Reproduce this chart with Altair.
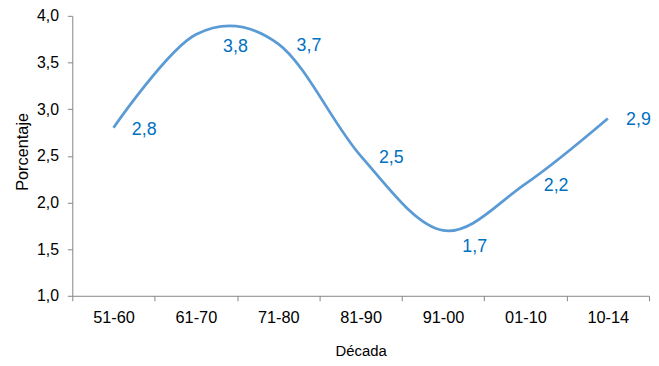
import altair as alt
import pandas as pd

# Data
decadas = ["51-60", "61-70", "71-80", "81-90", "91-00", "01-10", "10-14"]
valores = [2.8, 3.8, 3.7, 2.5, 1.7, 2.2, 2.9]
etiquetas = ["2,8", "3,8", "3,7", "2,5", "1,7", "2,2", "2,9"]
y_ticks = [1.0, 1.5, 2.0, 2.5, 3.0, 3.5, 4.0]

df = pd.DataFrame({"decada": decadas, "valor": valores, "etiqueta": etiquetas})

LINE_COLOR = "#5B9BD5"
LABEL_COLOR = "#0070C0"
AXIS_COLOR = "#868686"
FONT = "Liberation Sans"

x_enc = alt.X(
    "decada:N",
    sort=decadas,
    bandPosition=0.5,
    scale=alt.Scale(type="band", paddingInner=0, paddingOuter=0),
    axis=alt.Axis(
        title="Década",
        labelAngle=0,
        tickBand="extent",
        labelPadding=9,
        titlePadding=18,
        labelFontSize=16.5,
        titleFontSize=15,
    ),
)
y_enc = alt.Y(
    "valor:Q",
    scale=alt.Scale(domain=[1, 4], nice=False, zero=False),
    axis=alt.Axis(
        title="Porcentaje",
        values=y_ticks,
        labelExpr="replace(format(datum.value, '.1f'), '.', ',')",
        labelPadding=9,
        titlePadding=6,
        titleY=137,
        labelFontSize=16,
        titleFontSize=16.5,
    ),
)

base = alt.Chart(df)

line = base.mark_line(
    interpolate="cardinal", tension=0, color=LINE_COLOR, strokeWidth=2.8
).encode(x=x_enc, y=y_enc)

text_default = base.transform_filter(
    "datum.decada != '61-70' && datum.decada != '91-00'"
).mark_text(
    align="center", baseline="middle", dx=31, dy=2, fontSize=18, font=FONT, color=LABEL_COLOR
).encode(x=x_enc, y=y_enc, text="etiqueta:N")

text_peak = base.transform_filter("datum.decada == '61-70'").mark_text(
    align="center", baseline="middle", dx=40, dy=13, fontSize=18, font=FONT, color=LABEL_COLOR
).encode(x=x_enc, y=y_enc, text="etiqueta:N")

text_valley = base.transform_filter("datum.decada == '91-00'").mark_text(
    align="center", baseline="middle", dx=32, dy=17, fontSize=18, font=FONT, color=LABEL_COLOR
).encode(x=x_enc, y=y_enc, text="etiqueta:N")

chart = (
    alt.layer(line, text_default, text_peak, text_valley)
    .properties(
        width=583,
        height=283,
        autosize=alt.AutoSizeParams(type="none"),
        padding={"left": 65, "top": 6, "right": 2, "bottom": 66},
    )
    .configure_view(strokeOpacity=0)
    .configure_axis(
        grid=False,
        domainColor=AXIS_COLOR,
        tickColor=AXIS_COLOR,
        tickSize=5,
        labelColor="#000000",
        titleColor="#000000",
        labelFont=FONT,
        titleFont=FONT,
        titleFontWeight="normal",
    )
)

chart.save("out.html", embed_options={"renderer": "svg", "actions": False})
